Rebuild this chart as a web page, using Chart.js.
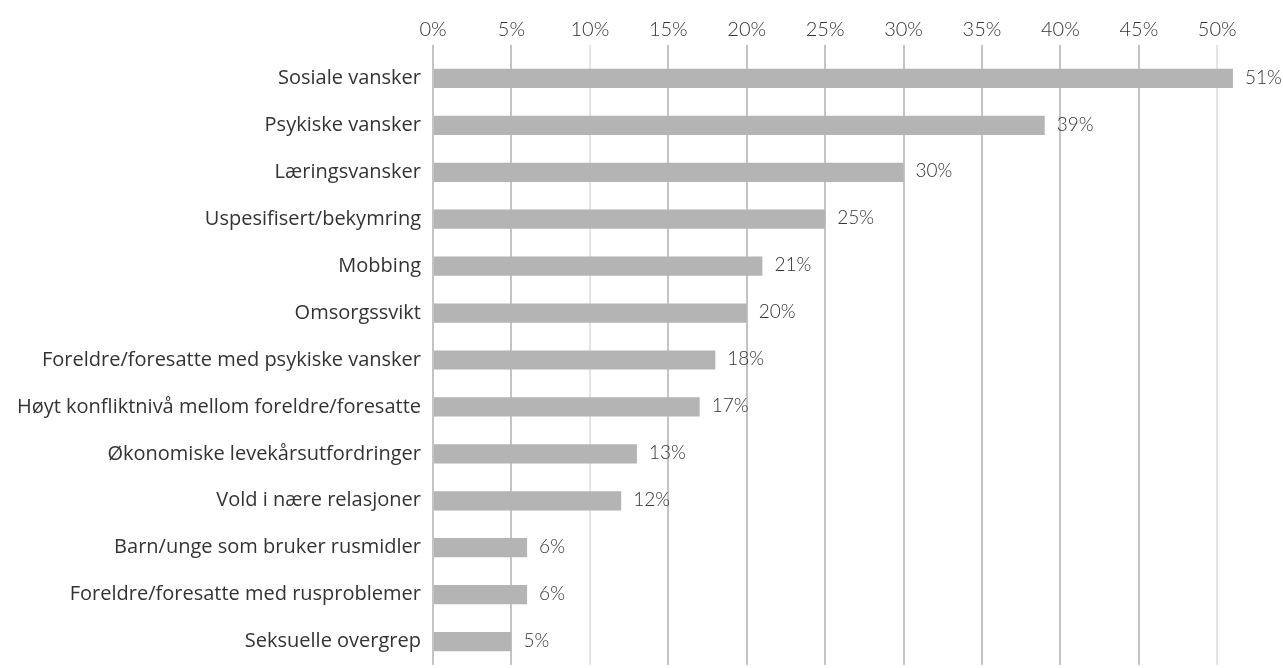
<!DOCTYPE html>
<html>
<head>
<meta charset="utf-8">
<script src="https://cdn.jsdelivr.net/npm/chart.js@4"></script>
<style>
  html, body { margin: 0; padding: 0; background: #fff; overflow: hidden; }
  canvas { display: block; }
</style>
</head>
<body>
<canvas id="chart" width="1283" height="668"></canvas>
<script>
// --- Data ---
const categories = [
  "Sosiale vansker",
  "Psykiske vansker",
  "Læringsvansker",
  "Uspesifisert/bekymring",
  "Mobbing",
  "Omsorgssvikt",
  "Foreldre/foresatte med psykiske vansker",
  "Høyt konfliktnivå mellom foreldre/foresatte",
  "Økonomiske levekårsutfordringer",
  "Vold i nære relasjoner",
  "Barn/unge som bruker rusmidler",
  "Foreldre/foresatte med rusproblemer",
  "Seksuelle overgrep"
];
const values = [51, 39, 30, 25, 21, 20, 18, 17, 13, 12, 6, 6, 5];
const tickValues = [0, 5, 10, 15, 20, 25, 30, 35, 40, 45, 50];

// value labels at the end of each bar
const barLabels = {
  id: "barLabels",
  afterDatasetsDraw(chart) {
    const ctx = chart.ctx;
    const meta = chart.getDatasetMeta(0);
    ctx.save();
    ctx.font = "300 19px Lato";
    ctx.fillStyle = "#333";
    ctx.textBaseline = "middle";
    ctx.textAlign = "left";
    meta.data.forEach((bar, i) => {
      ctx.fillText(values[i] + "%", bar.x + 12, bar.y - 1);
    });
    ctx.restore();
  }
};

new Chart(document.getElementById("chart"), {
  type: "bar",
  data: {
    labels: categories,
    datasets: [
      {
        data: values,
        backgroundColor: "#b4b4b4",
        borderWidth: 0,
        barPercentage: 0.41,
        categoryPercentage: 1
      }
    ]
  },
  options: {
    indexAxis: "y",
    responsive: false,
    animation: false,
    layout: { padding: { left: 0, right: 3, top: 0, bottom: 3 } },
    plugins: {
      legend: { display: false },
      tooltip: { enabled: false }
    },
    scales: {
      x: {
        position: "top",
        min: 0,
        max: 54,
        afterBuildTicks: (scale) => {
          scale.ticks = tickValues.map((v) => ({ value: v }));
        },
        afterFit: (scale) => {
          scale.height = 55;
        },
        border: { display: false },
        grid: {
          color: (c) => (c.tick && (c.tick.value === 10 || c.tick.value === 50) ? "#e4e4e4" : "#c4c4c4"),
          lineWidth: 2,
          tickLength: 10,
          drawTicks: true
        },
        ticks: {
          padding: 3,
          color: "#333",
          font: { family: "Lato", size: 20, weight: "300" },
          callback: (v) => v + "%"
        }
      },
      y: {
        afterFit: (scale) => {
          scale.width = 433;
          // no extra room above/below the category labels
          scale.paddingTop = 0;
          scale.paddingBottom = 0;
        },
        border: { display: false },
        grid: { display: false, drawTicks: false },
        ticks: {
          padding: 12,
          color: "#333",
          font: { family: "Open Sans", size: 20 }
        }
      }
    }
  },
  plugins: [barLabels]
});
</script>
</body>
</html>
